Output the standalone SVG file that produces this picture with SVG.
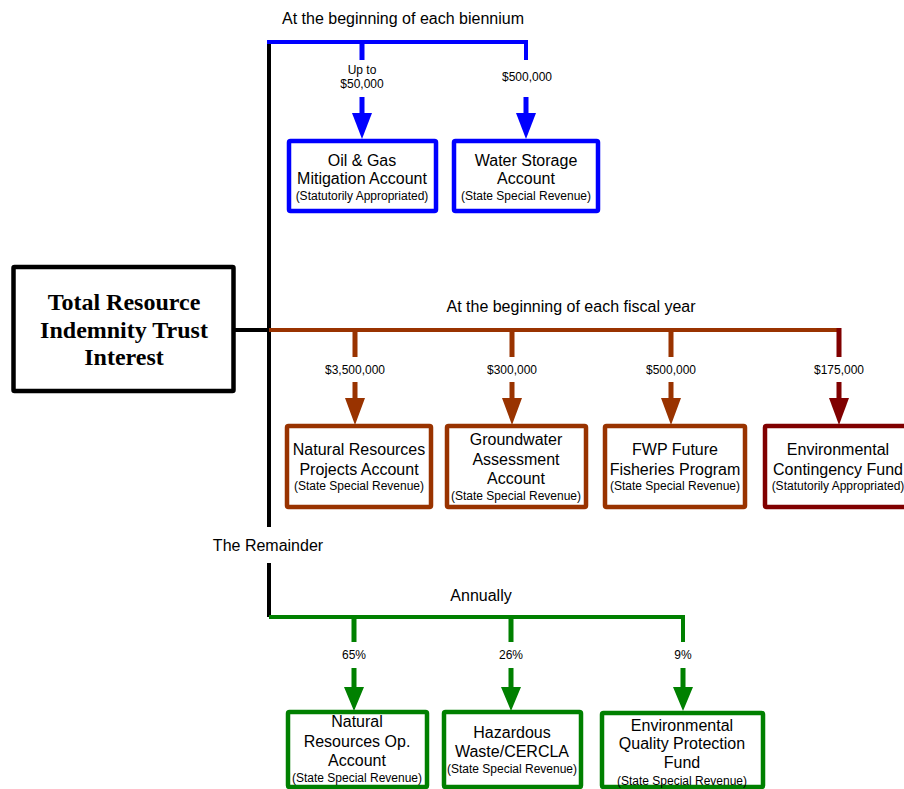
<svg xmlns="http://www.w3.org/2000/svg" width="904" height="789" viewBox="0 0 904 789">
<style>
text{font-family:"Liberation Sans",Arial,sans-serif;fill:#000;text-anchor:middle}
.t{font-size:16px}
.s{font-size:12px}
.l{font-size:12px}
.hd{font-size:16px}
.main{font-family:"Liberation Serif","Times New Roman",serif;font-weight:bold;font-size:24px}
.box{fill:#fff;stroke-width:4.5}
.blue{stroke:#0000ff}
.brown{stroke:#993300}
.dred{stroke:#800000}
.green{stroke:#008000}
.ln{fill:none;stroke-width:4}
.br{fill:none;stroke-width:5}
.fb{fill:#0000ff}
.fbr{fill:#993300}
.fdr{fill:#800000}
.fg{fill:#008000}
</style>
<rect width="904" height="789" fill="#fff"/>
<g id="connectors">
  <!-- black trunk -->
  <path d="M269,40 V527 M269,563 V617 M233,330 H269" fill="none" stroke="#000" stroke-width="4"/>
  <!-- blue -->
  <path class="ln blue" d="M267,42 H526 V60"/>
  <path class="br blue" d="M362,42 V60 M362,97 V114"/>
  <path class="br blue" d="M526,97 V114"/>
  <path class="fb" d="M352,113 H372 L362,139 Z"/>
  <path class="fb" d="M516,113 H536 L526,139 Z"/>
  <!-- brown -->
  <path class="ln brown" d="M269,330 H839"/>
  <path class="br brown" d="M355,330 V357 M355,382 V399 M512,330 V357 M512,382 V399 M671,330 V357 M671,382 V399"/>
  <path class="br dred" d="M839,328 V357 M839,382 V399"/>
  <path class="fbr" d="M345,398 H365 L355,425 Z M502,398 H522 L512,425 Z M661,398 H681 L671,425 Z"/>
  <path class="fdr" d="M829,398 H849 L839,425 Z"/>
  <!-- green -->
  <path class="ln green" d="M269,617 H683 V642"/>
  <path class="br green" d="M354,617 V642 M354,668 V688 M511,617 V642 M511,668 V688 M683,668 V688"/>
  <path class="fg" d="M344,687 H364 L354,711 Z M501,687 H521 L511,711 Z M673,687 H693 L683,711 Z"/>
  <!-- labels -->
  <text class="hd" x="403" y="24">At the beginning of each biennium</text>
  <text class="l" x="362" y="74">Up to</text>
  <text class="l" x="362" y="88">$50,000</text>
  <text class="l" x="527" y="81">$500,000</text>
  <text class="hd" x="571" y="312">At the beginning of each fiscal year</text>
  <text class="l" x="355" y="374">$3,500,000</text>
  <text class="l" x="512" y="374">$300,000</text>
  <text class="l" x="671" y="374">$500,000</text>
  <text class="l" x="839" y="374">$175,000</text>
  <text class="hd" x="268" y="551">The Remainder</text>
  <text class="hd" x="481" y="601">Annually</text>
  <text class="l" x="354" y="659">65%</text>
  <text class="l" x="511" y="659">26%</text>
  <text class="l" x="683" y="659">9%</text>
</g>
<g id="main">
  <rect x="13.5" y="267" width="220" height="124" fill="#fff" stroke="#000" stroke-width="4.5" rx="1"/>
  <text class="main" x="124" y="310">Total Resource</text>
  <text class="main" x="124" y="338">Indemnity Trust</text>
  <text class="main" x="124" y="365">Interest</text>
</g>
<g id="oilgas">
  <rect class="box blue" x="289" y="141" width="147" height="70" rx="1.5"/>
  <text class="t" x="362" y="166">Oil &amp; Gas</text>
  <text class="t" x="362" y="184">Mitigation Account</text>
  <text class="s" x="362" y="200">(Statutorily Appropriated)</text>
</g>
<g id="waterstorage">
  <rect class="box blue" x="454" y="141" width="144" height="70" rx="1.5"/>
  <text class="t" x="526" y="166">Water Storage</text>
  <text class="t" x="526" y="184">Account</text>
  <text class="s" x="526" y="200">(State Special Revenue)</text>
</g>
<g id="nrprojects">
  <rect class="box brown" x="287" y="426" width="144" height="81" rx="1.5"/>
  <text class="t" x="359" y="455">Natural Resources</text>
  <text class="t" x="359" y="475">Projects Account</text>
  <text class="s" x="359" y="490">(State Special Revenue)</text>
</g>
<g id="groundwater">
  <rect class="box brown" x="447" y="426" width="139" height="81" rx="1.5"/>
  <text class="t" x="516" y="445">Groundwater</text>
  <text class="t" x="516" y="465">Assessment</text>
  <text class="t" x="516" y="484">Account</text>
  <text class="s" x="516" y="500">(State Special Revenue)</text>
</g>
<g id="fwp">
  <rect class="box brown" x="605" y="426" width="140" height="81" rx="1.5"/>
  <text class="t" x="675" y="455">FWP Future</text>
  <text class="t" x="675" y="475">Fisheries Program</text>
  <text class="s" x="675" y="490">(State Special Revenue)</text>
</g>
<g id="envcontingency">
  <rect class="box dred" x="765" y="426" width="150" height="81" rx="1.5"/>
  <text class="t" x="838" y="455">Environmental</text>
  <text class="t" x="838" y="475">Contingency Fund</text>
  <text class="s" x="838" y="490">(Statutorily Appropriated)</text>
</g>
<g id="nrop">
  <rect class="box green" x="288" y="712" width="139" height="75" rx="1.5"/>
  <text class="t" x="357" y="727">Natural</text>
  <text class="t" x="357" y="747">Resources Op.</text>
  <text class="t" x="357" y="766">Account</text>
  <text class="s" x="357" y="782">(State Special Revenue)</text>
</g>
<g id="hazardous">
  <rect class="box green" x="444" y="712" width="137" height="75" rx="1.5"/>
  <text class="t" x="512" y="738">Hazardous</text>
  <text class="t" x="512" y="757">Waste/CERCLA</text>
  <text class="s" x="512" y="773">(State Special Revenue)</text>
</g>
<g id="eqpf">
  <rect class="box green" x="602" y="713" width="161" height="74" rx="1.5"/>
  <text class="t" x="682" y="731">Environmental</text>
  <text class="t" x="682" y="749">Quality Protection</text>
  <text class="t" x="682" y="768">Fund</text>
  <text class="s" x="682" y="785">(State Special Revenue)</text>
</g>
</svg>
